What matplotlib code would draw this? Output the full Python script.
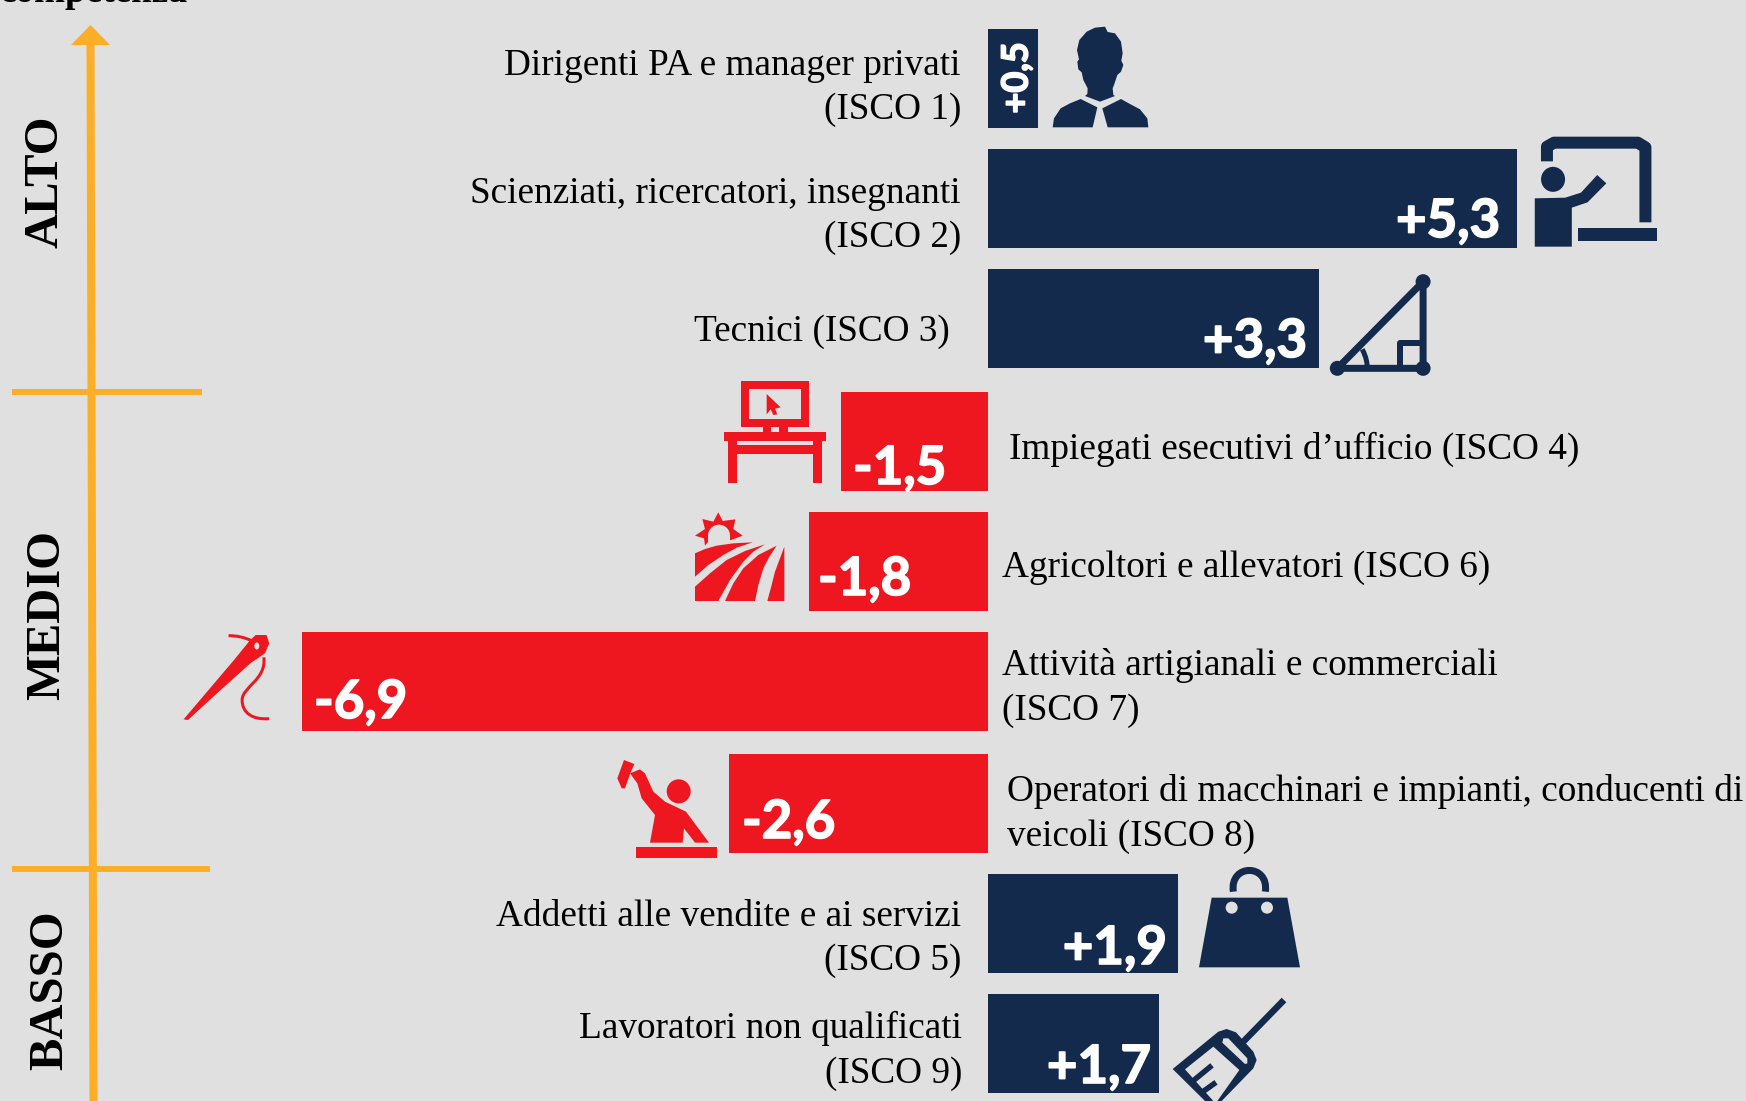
import matplotlib
matplotlib.use("Agg")
import matplotlib.pyplot as plt
import matplotlib.patheffects as pe
from matplotlib.patches import Polygon, Rectangle, Ellipse, PathPatch
from matplotlib.path import Path

# chart values
categories = ["Dirigenti PA e manager privati\n(ISCO 1)",
              "Scienziati, ricercatori, insegnanti\n(ISCO 2)",
              "Tecnici (ISCO 3)",
              "Impiegati esecutivi d\u2019ufficio (ISCO 4)",
              "Agricoltori e allevatori (ISCO 6)",
              "Attivit\u00e0 artigianali e commerciali\n(ISCO 7)",
              "Operatori di macchinari e impianti, conducenti di\nveicoli (ISCO 8)",
              "Addetti alle vendite e ai servizi\n(ISCO 5)",
              "Lavoratori non qualificati\n(ISCO 9)"]
# bar lengths as measured on the picture, the printed figures are in value_labels
values = [0.5, 5.29, 3.31, -1.47, -1.79, -6.86, -2.59, 1.9, 1.71]
value_labels = ["+0,5", "+5,3", "+3,3", "-1,5", "-1,8", "-6,9", "-2,6", "+1,9", "+1,7"]
levels = ["ALTO", "MEDIO", "BASSO"]

# layout, in pixels of the 1746x1101 picture
bar_top = [29, 149, 269, 392, 512, 632, 754, 874, 994]
label_x = [961, 961, 950, 1009, 1002, 1002, 1007, 961, 962]
label_y = [88, 216, 332, 449, 568, 688, 814, 939, 1051]
val_dx = [0, 17, 12, 12, 9, 12, 13, 11, 8]
val_base = [0, 237, 357, 484, 595, 718, 838, 964, 1083]
level_x = [45, 47, 50]
level_y = [182, 615, 990]

BG = "#E0E0E0"
NAVY = "#132A4D"
RED = "#EE161F"
ORANGE = "#FBAE26"
SERIF = "Liberation Serif"
PX = 72 / 100  # points per pixel at dpi 100

fig = plt.figure(figsize=(17.46, 11.01), dpi=100, facecolor=BG)

# bars: x is the value itself, 100 px per unit, zero at px 988
ax = fig.add_axes([0, 0, 1, 1])
ax.set_xlim(-9.88, 7.58)
ax.set_ylim(1101, 0)
ax.axis("off")
for top, v in zip(bar_top, values):
    ax.barh(top + 49.5, v, height=99, color=NAVY if v > 0 else RED)

# overlay in pixel coordinates for text and icons
dd = fig.add_axes([0, 0, 1, 1])
dd.set_xlim(0, 1746)
dd.set_ylim(1101, 0)
dd.axis("off")
dd.patch.set_alpha(0)

for i, cat in enumerate(categories):
    ha = "right" if values[i] > 0 else "left"
    dd.text(label_x[i], label_y[i], cat, ha=ha, va="center", family=SERIF,
            fontsize=26.8, color="black", linespacing=1.37, multialignment=ha)

heavy = [pe.withStroke(linewidth=1.2, foreground="white")]
for i, lab in enumerate(value_labels):
    if i == 0:
        dd.text(1017, 78, lab, rotation=90, ha="center", va="center", family="Lato",
                weight="bold", fontsize=26, color="white", path_effects=heavy)
    elif values[i] > 0:
        dd.text(988 + values[i] * 100 - val_dx[i], val_base[i], lab, ha="right", va="baseline",
                family="Lato", weight="bold", fontsize=38, color="white", path_effects=heavy)
    else:
        dd.text(988 + values[i] * 100 + val_dx[i], val_base[i], lab, ha="left", va="baseline",
                family="Lato", weight="bold", fontsize=38, color="white", path_effects=heavy)

for name, x, y in zip(levels, level_x, level_y):
    dd.text(x, y, name, rotation=90, ha="center", va="center", family=SERIF,
            weight="bold", fontsize=35, color="black")
dd.text(0, 2, "competenza", ha="left", va="baseline", family=SERIF, weight="bold",
        fontsize=26.8, color="black")

# orange axis
dd.plot([90.5, 93.5], [40, 1101], color=ORANGE, lw=8 * PX, solid_capstyle="butt")
dd.add_patch(Polygon([(90.5, 25), (110, 45), (71, 45)], color=ORANGE, lw=0))
dd.plot([12, 202], [392, 392], color=ORANGE, lw=6 * PX, solid_capstyle="butt")
dd.plot([12, 210], [869, 869], color=ORANGE, lw=6 * PX, solid_capstyle="butt")


def z2(pts):
    return [(950 + x / 1.97, y / 3) for x, y in pts]


def z3(pts):
    return [(150 + x / 1.845, 370 + y / 3) for x, y in pts]


def z4(pts):
    return [(950 + x / 3, 860 + y / 3) for x, y in pts]


def zbroom(pts):
    return [(1160 + x / 3, 990 + y / 3) for x, y in pts]


def zfarm(pts):
    return [(680 + x / 3, 505 + y / 3) for x, y in pts]


def zman(pts):
    return [(1040 + x / 3, 20 + y / 3) for x, y in pts]


def zdesk(pts):
    return [(715 + x / 3, 375 + y / 3) for x, y in pts]


def zwork(pts):
    return [(600 + x / 3, 750 + y / 3) for x, y in pts]


def poly(pts, color):
    dd.add_patch(Polygon(pts, closed=True, color=color, lw=0))


def line(pts, color, w, cap="butt"):
    xs, ys = zip(*pts)
    dd.plot(xs, ys, color=color, lw=w * PX, solid_capstyle=cap, solid_joinstyle="round")


def curve(pts, color, w):
    codes = [Path.MOVETO] + [Path.CURVE4] * (len(pts) - 1)
    dd.add_patch(PathPatch(Path(pts, codes), fc="none", ec=color, lw=w * PX, capstyle="butt"))


def box(z, x0, y0, x1, y1, color):
    a, b = z([(x0, y0), (x1, y1)])
    dd.add_patch(Rectangle(a, b[0] - a[0], b[1] - a[1], color=color, lw=0))


def oval(z, x, y, w, h, color):
    c = z([(x, y)])[0]
    dd.add_patch(Ellipse(c, w, h, color=color, lw=0))


# manager
poly(zman([(195, 20), (203, 36), (225, 40), (243, 65), (248, 100), (244, 122), (250, 135), (243, 155),
           (232, 165), (222, 195), (218, 205), (220, 225), (225, 228), (180, 245), (135, 228), (142, 222),
           (143, 205), (130, 180), (125, 157), (115, 148), (112, 125), (117, 118), (111, 90), (118, 60),
           (140, 35), (165, 23)]), NAVY)
poly(zman([(122, 237), (172, 262), (158, 322), (38, 322), (42, 295), (62, 265), (90, 250)]), NAVY)
poly(zman([(243, 237), (187, 265), (203, 322), (325, 322), (322, 295), (300, 268), (270, 252)]), NAVY)

# teacher
line(z2([(1176, 484), (1176, 440), (1190, 428), (1355, 428), (1370, 442), (1370, 667)]), NAVY, 12)
oval(z2, 1188, 538, 24, 25, NAVY)
poly(z2([(1152, 595), (1212, 593), (1243, 578), (1275, 525), (1293, 550), (1256, 607), (1225, 623),
         (1225, 740), (1152, 740)]), NAVY)
box(z2, 1237, 685, 1393, 722, NAVY)

# triangle and square
line(z2([(763, 1105), (932, 845), (932, 1105), (763, 1105)]), NAVY, 7)
line(z2([(887, 1105), (887, 1030), (932, 1030)]), NAVY, 6)
curve(z2([(812, 1048), (820, 1070), (822, 1090), (822, 1105)]), NAVY, 5)
for p in [(763, 1105), (932, 845), (932, 1105)]:
    oval(z2, p[0], p[1], 15, 15, NAVY)

# desk with monitor
box(zdesk, 78, 18, 283, 157, RED)
box(zdesk, 103, 43, 258, 133, BG)
poly(zdesk([(155, 57), (197, 97), (180, 101), (187, 118), (175, 120), (167, 103), (155, 118)]), RED)
box(zdesk, 143, 157, 168, 172, RED)
box(zdesk, 193, 157, 219, 172, RED)
box(zdesk, 28, 172, 333, 197, RED)
box(zdesk, 40, 197, 66, 324, RED)
box(zdesk, 295, 197, 322, 324, RED)
box(zdesk, 66, 210, 295, 236, RED)

# field and sun
poly(zfarm([(115, 22), (128, 48), (166, 43), (160, 72), (188, 92), (150, 106), (85, 110), (75, 122),
            (72, 100), (45, 92), (75, 72), (67, 42), (100, 50)]), RED)
oval(zfarm, 117, 92, 22, 22, BG)
box(zfarm, 84, 92, 150, 125, BG)
poly(zfarm([(45, 145), (75, 132), (110, 122), (160, 115), (218, 112), (170, 128), (130, 150), (85, 180),
            (45, 215)]), RED)
poly(zfarm([(45, 245), (90, 205), (140, 165), (195, 138), (255, 118), (220, 140), (190, 170), (150, 225),
            (115, 288), (45, 288)]), RED)
poly(zfarm([(135, 288), (160, 235), (190, 190), (235, 150), (290, 122), (268, 155), (250, 190), (235, 240),
            (225, 288)]), RED)
poly(zfarm([(313, 125), (313, 288), (262, 288), (275, 240), (285, 200)]), RED)

# needle and thread
poly(z3([(62, 1048), (155, 870), (185, 810), (195, 795), (215, 795), (220, 820), (212, 850), (185, 880),
         (110, 990), (70, 1050)]), RED)
dd.add_patch(Ellipse(z3([(197, 828)])[0], 5, 7, color=BG, lw=0))
curve(z3([(145, 797), (160, 797), (175, 802), (187, 812)]), RED, 3)
curve(z3([(210, 862), (215, 930), (170, 950), (170, 990)]), RED, 3)
curve(z3([(170, 990), (170, 1030), (190, 1050), (220, 1046)]), RED, 3)

# worker with hammer
poly(zwork([(72, 30), (103, 42), (90, 72), (75, 115), (65, 115), (52, 85)]), RED)
poly(zwork([(90, 70), (120, 58), (135, 70), (160, 125), (195, 155), (258, 185), (327, 278), (285, 278),
            (252, 235), (248, 278), (150, 278), (165, 195), (125, 145), (112, 100)]), RED)
oval(zwork, 236, 124, 24, 24, RED)
box(zwork, 107, 292, 350, 325, RED)

# shopping bag
poly(z4([(785, 113), (1012, 113), (1050, 322), (747, 322)]), NAVY)
oval(z4, 845, 143, 12, 12, BG)
oval(z4, 951, 143, 12, 12, BG)
curve(z4([(850, 95), (838, 10), (958, 10), (946, 95)]), NAVY, 7)

# broom
line(zbroom([(372, 30), (250, 155)]), NAVY, 6.5)
poly(zbroom([(38, 237), (175, 125), (200, 117), (228, 127), (280, 185), (290, 210), (280, 235), (185, 333),
             (135, 333)]), NAVY)
poly(zbroom([(190, 145), (205, 145), (262, 205), (262, 220), (255, 222), (187, 158)]), BG)
poly(zbroom([(75, 238), (160, 170), (238, 240), (172, 333), (160, 333)]), BG)
line(zbroom([(100, 272), (156, 226)]), NAVY, 5.5)
line(zbroom([(130, 304), (168, 277)]), NAVY, 5.5)

fig.savefig("out.png", dpi=100, facecolor=BG)
